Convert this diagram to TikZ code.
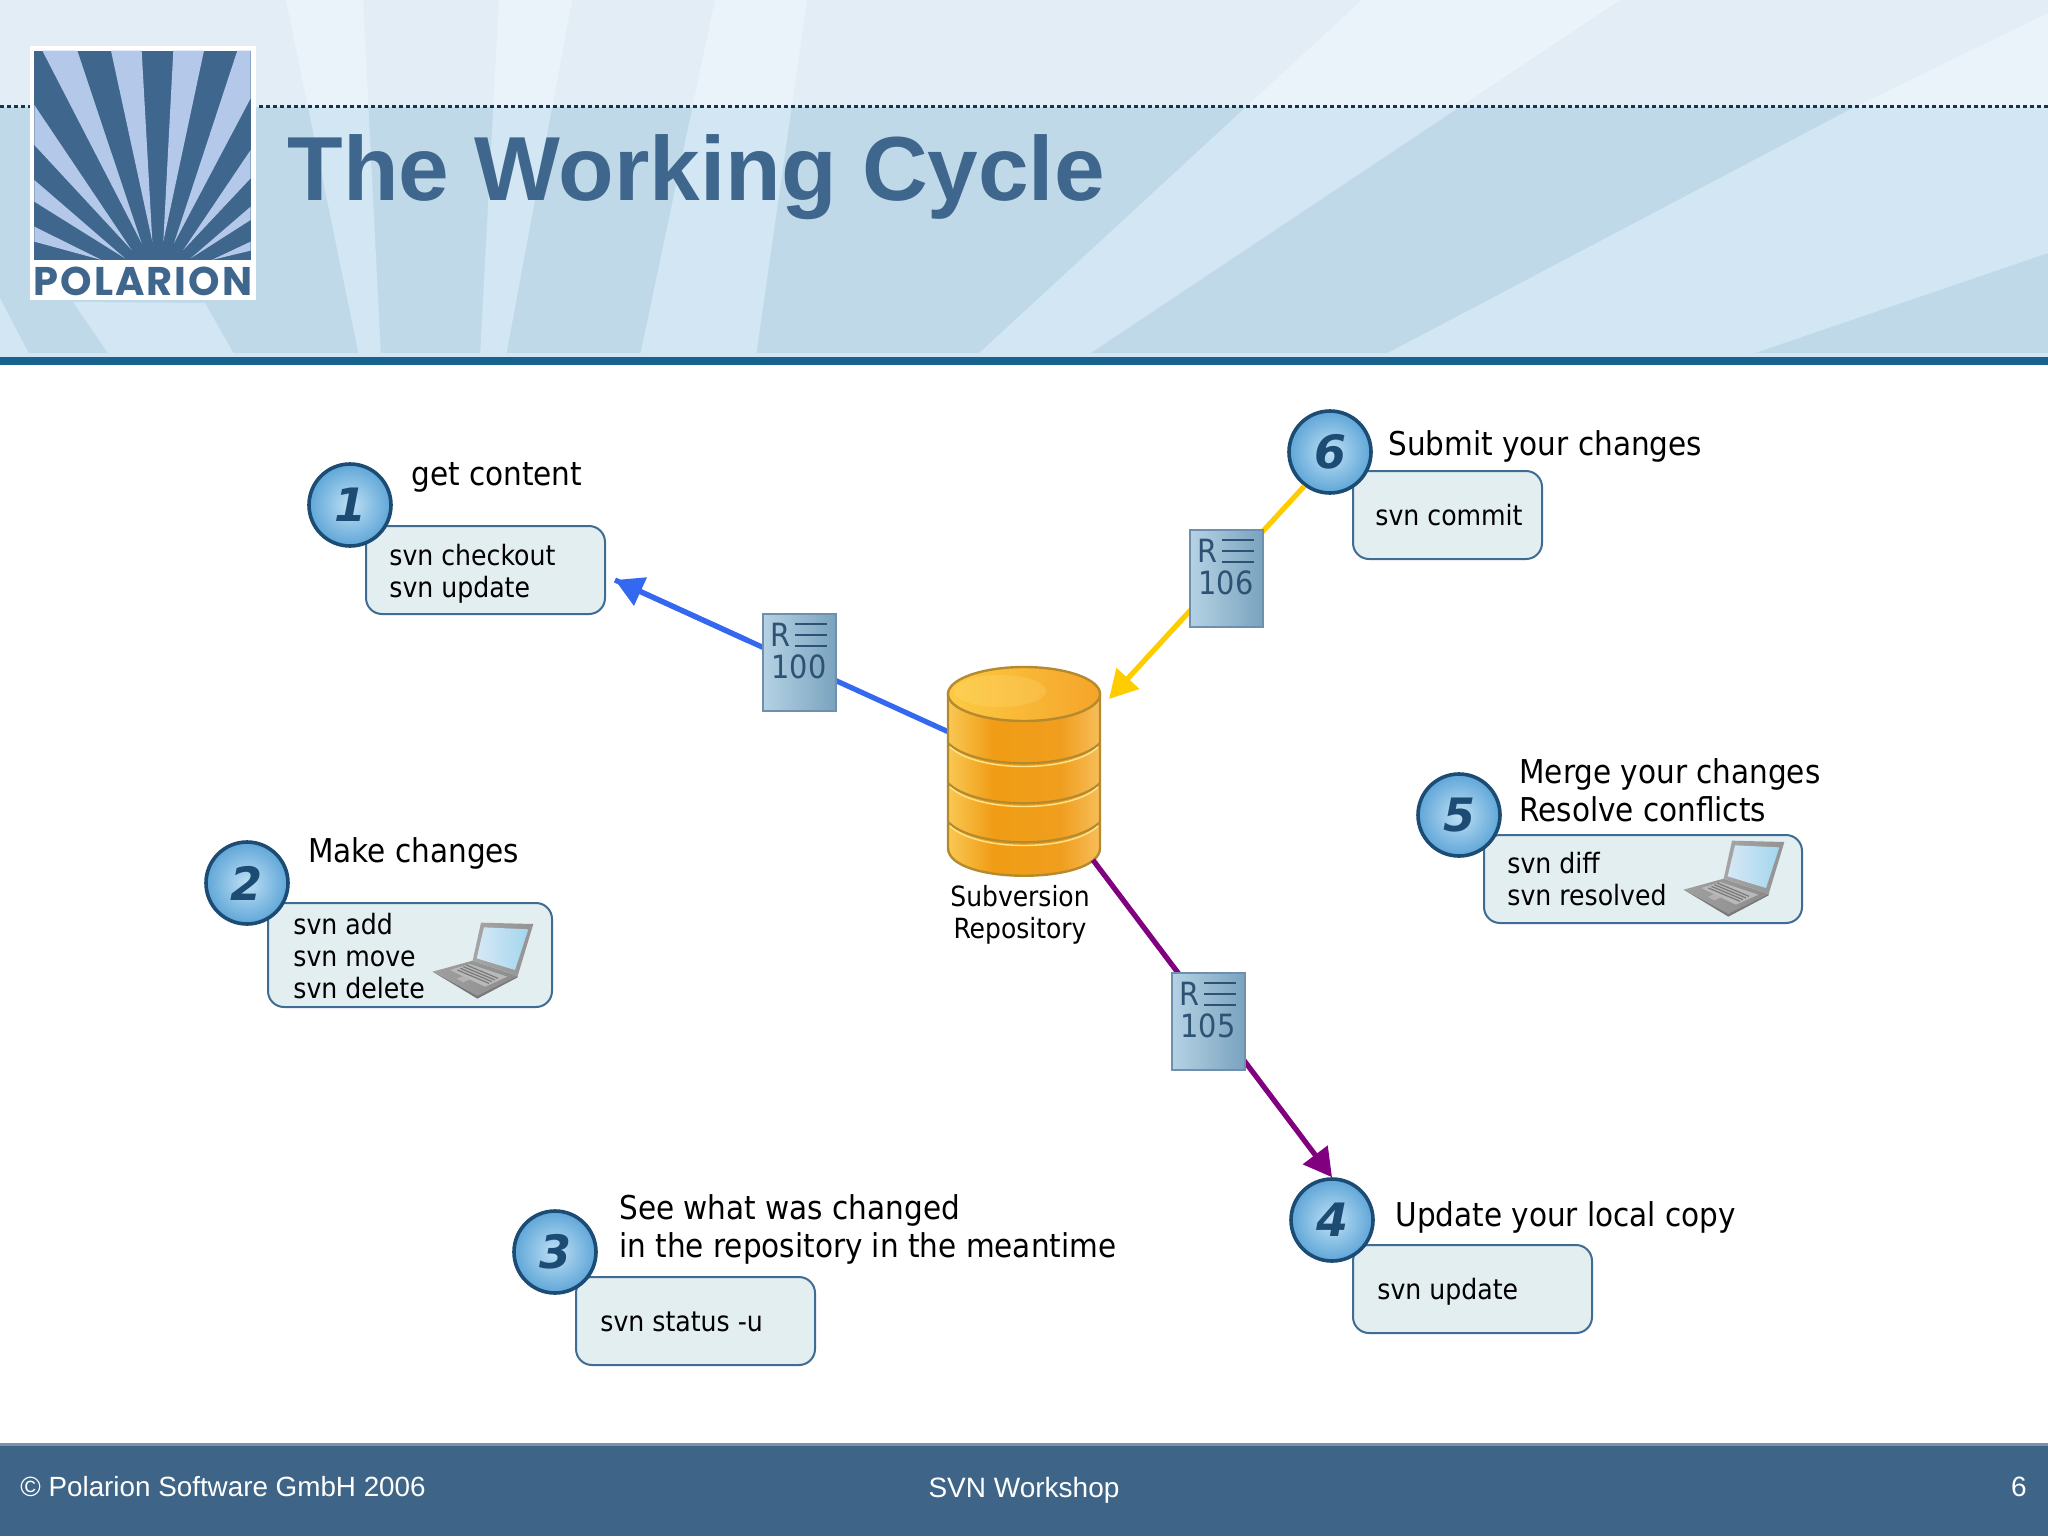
\documentclass[tikz,border=0pt]{standalone}
\usepackage{fontspec}
\setmainfont{DejaVu Sans Condensed}
\newfontfamily\arialf{Liberation Sans}
\newfontfamily\numf{DejaVu Sans}
\newfontfamily\logof[LetterSpace=5]{Poppins}
\usetikzlibrary{arrows.meta,calc}
\definecolor{raybase}{HTML}{C0D9E9}
\definecolor{raylight}{HTML}{D2E6F4}
\definecolor{bardark}{HTML}{17628F}
\definecolor{slate}{HTML}{3F668C}
\definecolor{logolight}{HTML}{B4C9EA}
\definecolor{boxfill}{HTML}{E3EEF1}
\definecolor{boxline}{HTML}{3F6C92}
\definecolor{numblue}{HTML}{1C4B73}
\definecolor{revtext}{HTML}{2E5273}
\definecolor{footbg}{HTML}{3E6587}
\definecolor{cylline}{HTML}{B58A2E}
\definecolor{cyla}{HTML}{F9C853}
\definecolor{cylb}{HTML}{F09C14}
\definecolor{cylc}{HTML}{F09E1E}
\definecolor{cyld}{HTML}{F7BE5A}
\definecolor{cyltopa}{HTML}{FCCB42}
\definecolor{cyltopb}{HTML}{F5A42A}
\definecolor{cylglow}{HTML}{FFE48A}
\definecolor{flowblue}{HTML}{3568F0}
\definecolor{flowyellow}{HTML}{FFCC00}
\definecolor{flowpurple}{HTML}{800080}
\definecolor{rayinner}{HTML}{BFE0F4}
\definecolor{rayouter}{HTML}{5FA6D8}
\definecolor{revedge}{HTML}{6E90AE}
\definecolor{revleft}{HTML}{B5D2E4}
\definecolor{revright}{HTML}{7AA3BE}
\definecolor{raylightscreen}{HTML}{D6E8F5}
\definecolor{raydeepscreen}{HTML}{A3D6EF}
\pgfdeclarehorizontalshading{repobody}{100bp}{color(0bp)=(cyla);
 color(25bp)=(cyla);
 color(40bp)=(cylb);
 color(62bp)=(cylc);
 color(75bp)=(cyld);
 color(100bp)=(cyld)}
\tikzset{
 x=0.5pt,y=-0.5pt,
 cmdbox/.style={draw=boxline,fill=boxfill,line width=1pt,rounded corners=8pt,anchor=north west,inner sep=0pt},
 stepcircle/.style={circle,draw=numblue,line width=1.8pt,inner color=rayinner,outer color=rayouter,minimum size=41pt,inner sep=0pt,text=numblue,font=\numf\bfseries\itshape\fontsize{23}{23}\selectfont},
 cmdtext/.style={anchor=west,align=left,inner sep=0pt,font=\fontsize{14}{16}\selectfont,text=black},
 steplabel/.style={anchor=west,align=left,inner sep=0pt,font=\fontsize{16.4}{19}\selectfont,text=black},
 revbox/.style={draw=revedge,line width=0.8pt,left color=revleft,right color=revright,minimum width=36.5pt,minimum height=48.5pt,anchor=north west,inner sep=0pt},
 revglyph/.style={inner sep=0pt,text=revtext,font=\fontsize{16}{18}\selectfont},
 revrule/.style={draw=revtext,line width=0.8pt},
 flow/.style={line width=2.6pt},
 flowtip/.style={-{Triangle[length=14pt,width=15pt]}},
}
\newcommand\revmark[4]{% name, x, y, number
 \node[revbox] (#1) at (#2,#3) {};
 \node[revglyph] (#1r) at ($(#2,#3)+(18,22)$) {R};
 \node[revglyph] (#1n) at ($(#2,#3)+(37,54)$) {#4};
 \draw[revrule] ($(#2,#3)+(33,11)$) -- ++(32,0) ($(#2,#3)+(33,22)$) -- ++(32,0) ($(#2,#3)+(33,33)$) -- ++(32,0);
}
\newcommand\notebook[2]{%
 \begin{scope}[shift={(#1,#2)},scale=0.3333]
  \shade[left color=gray!75,right color=gray!90] (158,122) -- (293,168) -- (172,232) -- (38,155) -- cycle;
  \fill[gray!95!black] (38,155) -- (172,228) -- (293,168) -- (293,172) -- (172,236) -- cycle;
  \fill[gray!55] (148,132) -- (262,170) -- (195,200) -- (90,150) -- cycle;
  \foreach \k in {0,1,2,3}{\draw[gray!95!black,line width=0.6pt] ($(112,150)+(\k*9,-5*\k)$) -- ++(95,40);}
  \fill[gray!60] (110,176) -- (130,168) -- (150,178) -- (130,187) -- cycle;
  \shade[left color=gray!70,right color=gray!85] (183,8) -- (340,12) -- (293,168) -- (158,122) -- cycle;
  \shade[shading angle=45,left color=raylightscreen,right color=raydeepscreen] (192,22) -- (325,28) -- (285,150) -- (170,115) -- cycle;
 \end{scope}}
\begin{document}
\begin{tikzpicture}
\useasboundingbox (0,0) rectangle (2048,1536);
\fill[white] (0,0) rectangle (2048,1536);
% header
\fill[raybase] (0,0) rectangle (2048,360);
\fill[raylight] (286,0) -- (363,0) -- (381,356) -- (359,356) -- cycle;
\fill[raylight] (499,0) -- (572,0) -- (506,356) -- (480,356) -- cycle;
\fill[raylight] (715,0) -- (807,0) -- (756,356) -- (640,356) -- cycle;
\fill[raylight] (1362,0) -- (1620,0) -- (1086,356) -- (976,356) -- cycle;
\fill[raylight] (2048,13) -- (1849,110) -- (1382,356) -- (1746,356) -- (2048,253) -- cycle;
\fill[raylight] (73,302) -- (205,303) -- (235,356) -- (110,356) -- cycle;
\fill[raylight] (0,298) -- (30,356) -- (0,356) -- cycle;
\fill[white,opacity=0.55] (0,0) rectangle (2048,107);
\draw[numblue!70!black,line width=1.5pt,dash pattern=on 2pt off 1.5pt] (0,107) -- (2048,107);
\fill[raylight] (0,353) rectangle (2048,357);
\fill[bardark] (0,357) rectangle (2048,365);
% logo
\fill[white] (30,46) rectangle (256,300);
\begin{scope}[shift={(25,40)},scale=0.3333]
 \fill[slate] (28,32) rectangle (677,660);
 \fill[logolight] (230,660) -- (28,560) -- (28,605) -- cycle;
 \fill[logolight] (300,655) -- (28,420) -- (28,485) -- cycle;
 \fill[logolight] (320,630) -- (28,195) -- (28,315) -- cycle;
 \fill[logolight] (350,610) -- (52,32) -- (157,32) -- cycle;
 \fill[logolight] (382,605) -- (258,32) -- (350,32) -- cycle;
 \fill[logolight] (415,605) -- (445,32) -- (537,32) -- cycle;
 \fill[logolight] (447,610) -- (637,32) -- (677,32) -- (677,175) -- cycle;
 \fill[logolight] (475,630) -- (677,330) -- (677,415) -- cycle;
 \fill[logolight] (497,655) -- (677,500) -- (677,540) -- cycle;
 \fill[logolight] (560,660) -- (677,605) -- (677,632) -- cycle;
\end{scope}
\node[inner sep=0pt,text=slate,font=\logof\bfseries\fontsize{20}{20}\selectfont] (logotext) at (143,281) {POLARION};
\node[anchor=base west,inner sep=0pt,text=slate,font=\arialf\bfseries\fontsize{45.5}{46}\selectfont] (title) at (287,200) {The Working Cycle};
% connectors
\coordinate (tipone) at (615,580);
\coordinate (tipsix) at (1109,699);
\coordinate (repose) at (1093,860);
\node[minimum width=76pt,minimum height=91pt,inner sep=0pt] (repo) at (1024,785) {};
\draw[flow,draw=flowblue] (repo.145) -- (tipone);
% cylinder
\draw[cylline,line width=1.2pt,shading=repobody] (948,694) -- (948,848) .. controls (948,885) and (1100,885) .. (1100,848) -- (1100,694) -- cycle;
\foreach \yy in {743,783,822}{
 \draw[cylline,line width=1.1pt] (948,\yy) .. controls (975,\yy+27) and (1073,\yy+27) .. (1100,\yy);
 \draw[cylglow,line width=0.7pt] (950,\yy+4) .. controls (977,\yy+30) and (1071,\yy+30) .. (1098,\yy+4);
}
\shade[left color=cyltopa,right color=cyltopb,draw=cylline,line width=1.2pt] (1024,694) ellipse [x radius=76,y radius=27];
\fill[cylglow,opacity=0.22] (1000,691) ellipse [x radius=46,y radius=16];
\node[inner sep=0pt,align=center,font=\fontsize{13.9}{16}\selectfont] (repotext) at (1020,915) {Subversion\\Repository};
% step 1
\node[cmdbox,minimum width=119.5pt,minimum height=44pt] (b1) at (365,525) {};
\node[stepcircle] (c1) at (350,505) {1};
\node[cmdtext] (t1) at (389,574) {svn checkout\\svn update};
\node[steplabel] (l1) at (411,477) {get content};
% step 2
\node[cmdbox,minimum width=142pt,minimum height=52pt] (b2) at (267,902) {};
\node[stepcircle] (c2) at (247,883) {2};
\node[cmdtext] (t2) at (293,956) {svn add\\svn move\\svn delete};
\node[steplabel] (l2) at (308,853) {Make changes};
\notebook{420}{920}
% step 3
\node[cmdbox,minimum width=119.5pt,minimum height=44pt] (b3) at (575,1276) {};
\node[stepcircle] (c3) at (555,1252) {3};
\node[cmdtext] (t3) at (600,1322) {svn status -u};
\node[steplabel] (l3) at (619,1229) {See what was changed\\in the repository in the meantime};
% step 4
\node[cmdbox,minimum width=119.5pt,minimum height=44pt] (b4) at (1352,1244) {};
\node[stepcircle] (c4) at (1332,1220) {4};
\node[cmdtext] (t4) at (1377,1292) {svn update};
\node[steplabel] (l4) at (1395,1217) {Update your local copy};
% step 5
\node[cmdbox,minimum width=159pt,minimum height=44pt] (b5) at (1483,834) {};
\node[stepcircle] (c5) at (1459,815) {5};
\node[cmdtext] (t5) at (1507,879) {svn diff\\svn resolved};
\node[steplabel] (l5) at (1519,790) {Merge your changes\\Resolve conflicts};
\notebook{1671}{838}
% step 6
\node[cmdbox,minimum width=94.5pt,minimum height=44pt] (b6) at (1352,470) {};
\node[stepcircle] (c6) at (1330,452) {6};
\node[cmdtext] (t6) at (1375,515) {svn commit};
\node[steplabel] (l6) at (1388,446) {Submit your changes};
% arrows
\draw[flow,draw=flowblue,flowtip] ($(repo.145)!0.6!(tipone)$) -- (tipone);
\draw[flow,draw=flowyellow,flowtip] (c6.233) -- (tipsix);
\draw[flow,draw=flowpurple,flowtip] (repose) -- (c4.north);
% revisions
\revmark{rone}{762}{613}{100}
\revmark{rsix}{1189}{529}{106}
\revmark{rfive}{1171}{972}{105}
% footer
\fill[footbg!70!white] (0,1443) rectangle (2048,1446);
\fill[footbg] (0,1446) rectangle (2048,1536);
\node[anchor=west,inner sep=0pt,text=white,font=\arialf\fontsize{13.9}{14}\selectfont] (f1) at (20,1487) {© Polarion Software GmbH 2006};
\node[inner sep=0pt,text=white,font=\arialf\fontsize{14}{14}\selectfont] (f2) at (1024,1490) {SVN Workshop};
\node[anchor=east,inner sep=0pt,text=white,font=\arialf\fontsize{14}{14}\selectfont] (f3) at (2027,1487) {6};
\end{tikzpicture}
\end{document}
